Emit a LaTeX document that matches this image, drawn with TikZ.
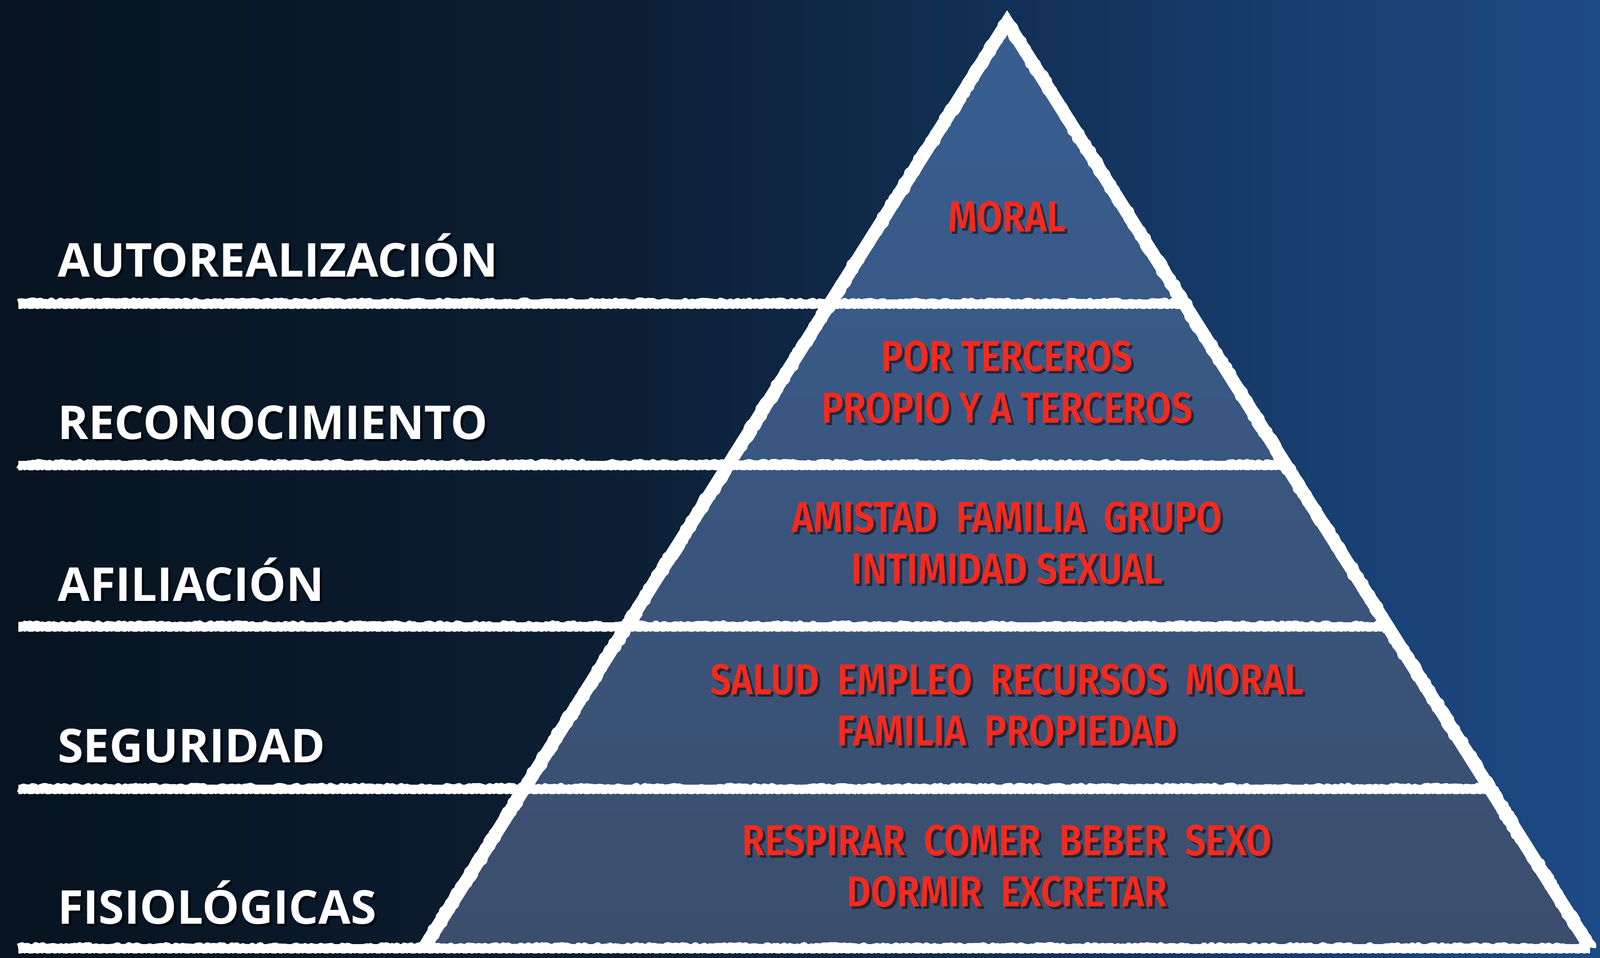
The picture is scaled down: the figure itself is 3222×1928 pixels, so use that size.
\documentclass[tikz,border=0pt]{standalone}
\usepackage{fontspec}
\usetikzlibrary{calc,decorations.pathmorphing}
\newfontfamily\labelfont{Open Sans}
\newfontfamily\comicfont[FakeStretch=0.86]{Fira Sans SemiBold}
\definecolor{bgA}{HTML}{030C15}
\definecolor{bgB}{HTML}{07131F}
\definecolor{bgC}{HTML}{0C1F35}
\definecolor{bgD}{HTML}{143560}
\definecolor{bgE}{HTML}{1D4B86}
\definecolor{bgF}{HTML}{1F508C}
\definecolor{pyrTop}{HTML}{385E92}
\definecolor{pyrBot}{HTML}{3B4E6C}
\definecolor{needred}{HTML}{F52A1E}
\pgfdeclarehorizontalshading{bgshade}{100bp}{color(0bp)=(bgA); color(25bp)=(bgB); color(45bp)=(bgC); color(60bp)=(bgD); color(75bp)=(bgE); color(100bp)=(bgF)}
\tikzset{
  lvl/.style={font=\labelfont\bfseries\fontsize{94}{100}\selectfont, text=white, anchor=base west, inner sep=0pt},
  lvlshadow/.style={lvl, text=black, opacity=0.6},
  need/.style={font=\comicfont\fontsize{87}{100}\selectfont, text=needred, anchor=base, inner sep=0pt},
  needshadow/.style={need, text=black, opacity=0.5},
  chalk/.style={draw=white, line width=18pt, line cap=butt},
  chalkrough/.style={draw=white, line width=16pt, line join=round, decorate, decoration={random steps, segment length=5pt, amplitude=3pt}},
  chalkgrain/.style={draw=white, line width=4pt, dash pattern=on 7pt off 4pt on 3pt off 6pt on 10pt off 5pt},
  edge/.style={draw=white, line width=26pt, line join=miter, line cap=butt},
  edgerough/.style={draw=white, line width=24pt, line join=round, decorate, decoration={random steps, segment length=6pt, amplitude=3.5pt}},
}
\begin{document}
\begin{tikzpicture}[x=1pt, y=-1pt]
\useasboundingbox (0,0) rectangle (3222,1928);
% background
\shade[shading=bgshade] (0,0) rectangle (3222,1928);
% pyramid geometry
\coordinate (A) at (2028,45);
\coordinate (BL) at (854,1908);
\coordinate (BR) at (3202,1908);
\shade[top color=pyrTop, bottom color=pyrBot] (A) -- (BR) -- (BL) -- cycle;
% horizontal chalk lines
\coordinate (L1) at (37,610);  \coordinate (R1) at ($(A)!0.3033!(BR)$);
\coordinate (L2) at (37,935);  \coordinate (R2) at ($(A)!0.4777!(BR)$);
\coordinate (L3) at (37,1260); \coordinate (R3) at ($(A)!0.6522!(BR)$);
\coordinate (L4) at (37,1587); \coordinate (R4) at ($(A)!0.8277!(BR)$);
\coordinate (L5) at (37,1908); \coordinate (R5) at (BR);
\foreach \i in {1,...,5}{
  \draw[chalk] ([yshift=-2pt]L\i) -- ([yshift=-2pt]R\i);
  \draw[chalkrough] (L\i) -- (R\i);
  \draw[chalkgrain] ([yshift=-10pt]L\i) -- ([yshift=-10pt]R\i);
}
% pyramid edges
\draw[edge] (BL) -- (A) -- (BR);
\draw[edgerough] (BL) -- (A);
\draw[edgerough] (A) -- (BR);
% level labels
\node[lvlshadow] (autos) at (121,562) {AUTOREALIZACIÓN};
\node[lvl] (auto) at (116,557) {AUTOREALIZACIÓN};
\node[lvlshadow] (recos) at (121,889) {RECONOCIMIENTO};
\node[lvl] (reco) at (116,884) {RECONOCIMIENTO};
\node[lvlshadow] (afils) at (121,1215) {AFILIACIÓN};
\node[lvl] (afil) at (116,1210) {AFILIACIÓN};
\node[lvlshadow] (segus) at (121,1540) {SEGURIDAD};
\node[lvl] (segu) at (116,1535) {SEGURIDAD};
\node[lvlshadow] (fisis) at (121,1865) {FISIOLÓGICAS};
\node[lvl] (fisi) at (116,1860) {FISIOLÓGICAS};
% needs
\node[needshadow] (m1s) at (2033,471) {MORAL};
\node[need] (m1) at (2028,466) {MORAL};
\node[needshadow] (p1s) at (2033,752) {POR TERCEROS};
\node[need] (p1) at (2028,747) {POR TERCEROS};
\node[needshadow] (p2s) at (2033,856) {PROPIO Y A TERCEROS};
\node[need] (p2) at (2028,851) {PROPIO Y A TERCEROS};
\node[needshadow] (a1s) at (2033,1076) {AMISTAD~~FAMILIA~~GRUPO};
\node[need] (a1) at (2028,1071) {AMISTAD~~FAMILIA~~GRUPO};
\node[needshadow] (a2s) at (2033,1180) {INTIMIDAD SEXUAL};
\node[need] (a2) at (2028,1175) {INTIMIDAD SEXUAL};
\node[needshadow] (s1s) at (2033,1403) {SALUD~~EMPLEO~~RECURSOS~~MORAL};
\node[need] (s1) at (2028,1398) {SALUD~~EMPLEO~~RECURSOS~~MORAL};
\node[needshadow] (s2s) at (2033,1506) {FAMILIA~~PROPIEDAD};
\node[need] (s2) at (2028,1501) {FAMILIA~~PROPIEDAD};
\node[needshadow] (r1s) at (2033,1727) {RESPIRAR~~COMER~~BEBER~~SEXO};
\node[need] (r1) at (2028,1722) {RESPIRAR~~COMER~~BEBER~~SEXO};
\node[needshadow] (r2s) at (2033,1830) {DORMIR~~EXCRETAR};
\node[need] (r2) at (2028,1825) {DORMIR~~EXCRETAR};
\end{tikzpicture}
\end{document}
